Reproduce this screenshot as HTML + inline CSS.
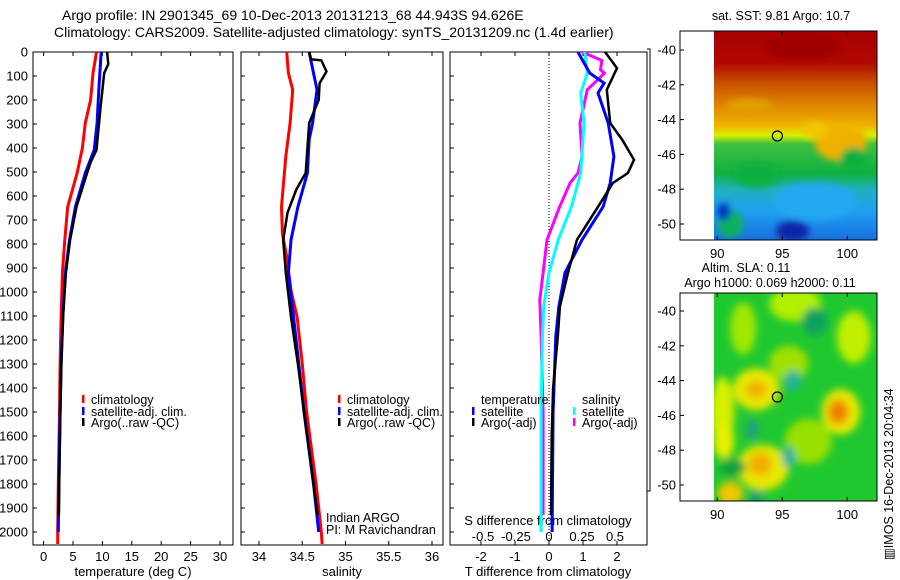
<!DOCTYPE html>
<html><head><meta charset="utf-8"><style>
html,body{margin:0;padding:0;background:#fff;}
svg{display:block;font-family:"Liberation Sans",sans-serif;}
</style></head><body>
<svg id="chart" width="900" height="580" viewBox="0 0 900 580" xmlns="http://www.w3.org/2000/svg">
<defs>
<clipPath id="c1"><rect x="33" y="52" width="200" height="493"/></clipPath>
<clipPath id="c2"><rect x="241" y="52" width="202" height="493"/></clipPath>
<clipPath id="c3"><rect x="450" y="52" width="197" height="493"/></clipPath>
<clipPath id="m1"><rect x="714" y="31" width="163" height="209"/></clipPath>
<clipPath id="m2"><rect x="714" y="293" width="163" height="208"/></clipPath>
<filter id="blur" x="-50%" y="-50%" width="200%" height="200%"><feGaussianBlur stdDeviation="3.5"/></filter>
<filter id="blur2" x="-50%" y="-50%" width="200%" height="200%"><feGaussianBlur stdDeviation="4"/></filter>
<linearGradient id="sstg" x1="0" y1="0" x2="0" y2="1">
<stop offset="0" stop-color="#a80000"/><stop offset="0.15" stop-color="#b00800"/>
<stop offset="0.25" stop-color="#c85000"/><stop offset="0.36" stop-color="#e08800"/>
<stop offset="0.45" stop-color="#f0b000"/><stop offset="0.5" stop-color="#d8f000"/>
<stop offset="0.54" stop-color="#40c040"/><stop offset="0.68" stop-color="#10b040"/>
<stop offset="0.76" stop-color="#20b0c0"/><stop offset="0.86" stop-color="#20a0f0"/>
<stop offset="1" stop-color="#1870e0"/>
</linearGradient>
</defs>
<text x="62" y="20" font-size="14">Argo profile: IN 2901345_69 10-Dec-2013 20131213_68 44.943S 94.626E</text>
<text x="54" y="37" font-size="14">Climatology: CARS2009. Satellite-adjusted climatology: synTS_20131209.nc (1.4d earlier)</text>
<g id="axes"></g>
<g id="maps"></g>
</svg>
<script>
// ---------- data ----------
const depthTicks = [0,100,200,300,400,500,600,700,800,900,1000,1100,1200,1300,1400,1500,1600,1700,1800,1900,2000];
const tempTicks = [0,5,10,15,20,25,30];
const salTicks = [34,34.5,35,35.5,36];
const salTickLabels = ["34","34.5","35","35.5","36"];
const tdiffTicks = [-2,-1,0,1,2];
const sdiffTicks = [-0.5,-0.25,0,0.25,0.5];
const sdiffTickLabels = ["-0.5","-0.25","0","0.25","0.5"];

const tClimDepth = [0,88,200,296,400,504,645,783,920,1088,1300,1500,1800,2000,2050];
const tClimVal   = [9.0,8.4,8.0,7.1,6.6,5.7,4.1,3.6,3.2,3.0,2.8,2.7,2.5,2.4,2.4];
const tSatDepth  = [0,150,296,408,504,645,783,920,1088,1300,1500,1800,2000];
const tSatVal    = [9.8,9.4,9.1,8.6,7.1,5.4,4.4,3.7,3.3,3.0,2.8,2.6,2.5];
const tArgoDepth = [0,50,88,228,408,460,504,645,783,920,1088,1300,1500,1800,1930];
const tArgoVal   = [10.8,11.0,10.3,9.7,9.0,8.0,7.4,5.6,4.5,3.8,3.35,3.0,2.85,2.65,2.6];

const sClimDepth = [0,88,157,296,435,645,757,853,993,1104,1300,1500,1800,2000,2050];
const sClimVal   = [34.32,34.34,34.39,34.36,34.31,34.26,34.27,34.32,34.37,34.44,34.50,34.55,34.66,34.72,34.73];
const sSatDepth  = [0,88,157,296,365,504,645,783,920,1104,1300,1500,1800,2000];
const sSatVal    = [34.58,34.63,34.67,34.62,34.58,34.56,34.45,34.37,34.34,34.40,34.46,34.52,34.63,34.69];
const sArgoDepth = [0,30,35,81,130,199,296,504,574,670,783,920,1104,1300,1500,1800,1930];
const sArgoVal   = [34.58,34.60,34.72,34.78,34.70,34.69,34.58,34.54,34.43,34.33,34.28,34.31,34.37,34.45,34.52,34.63,34.68];

const dTArgoDepth = [0,67,157,296,365,449,504,546,645,783,920,1060,1185,1400,1600,1930];
const dTArgoVal   = [1.65,2.0,1.7,1.8,2.15,2.5,2.32,1.88,1.44,0.82,0.56,0.32,0.26,0.12,0.08,0.06];
const dTSatDepth  = [0,88,130,171,296,435,546,645,783,920,1060,1185,1500,2000];
const dTSatVal    = [0.85,1.2,1.62,1.44,1.74,1.91,1.8,1.59,0.97,0.47,0.29,0.2,0.12,0.09];
const dSSatDepth  = [0,88,171,296,504,645,783,920,1060,1185,1500,2000];
const dSSatVal    = [0.27,0.29,0.24,0.265,0.24,0.17,0.07,0,-0.04,-0.05,-0.06,-0.06];
const dSArgoDepth = [0,35,74,88,116,157,296,435,504,546,645,783,920,1032,1185,1500,1930];
const dSArgoVal   = [0.25,0.40,0.39,0.42,0.37,0.29,0.235,0.25,0.22,0.16,0.08,-0.015,-0.045,-0.07,-0.06,-0.045,-0.045];

const lonTicks = [90,95,100];
const latTicks = [-40,-42,-44,-46,-48,-50];
const argoLon = 94.626, argoLat = -44.943;
// SST features: lon, lat, rx(deg), ry(deg), colour
const sstBlobLon = [99.5,100.5,97.5,95.8,97.5,93.0,91.0,90.5,96.5,92.5];
const sstBlobLat = [-45.3,-46.3,-48.7,-50.4,-44.6,-47.2,-50.0,-49.3,-39.8,-43.2];
const sstBlobRx  = [2.0,1.1,3.2,1.3,1.0,1.8,1.0,0.5,3.0,1.8];
const sstBlobRy  = [1.1,0.7,1.1,0.6,0.5,0.7,0.8,0.5,0.8,0.4];
const sstBlobCol = ["#f0b000","#10b040","#20a8f0","#0828a8","#f0c800","#10b040","#10b060","#0030c0","#a00000","#e0a000"];
// SLA features
const slaBlobLon = [90.4,93.0,93.0,99.5,99.3,93.5,93.3,91.0,96.0,92.0,100.5,97.0,95.5,95.8,92.7,95.5,97.5,93.0,91.2,90.5];
const slaBlobLat = [-45.8,-44.5,-44.5,-45.8,-45.8,-49.0,-48.8,-50.5,-39.6,-41.0,-41.5,-47.5,-43.0,-44.0,-46.8,-48.4,-40.6,-50.7,-49.0,-47.5];
const slaBlobRx  = [0.9,1.8,0.8,1.5,0.8,2.0,0.9,1.0,2.0,1.0,1.3,1.8,1.5,0.6,0.5,0.5,1.0,0.6,1.0,0.8];
const slaBlobRy  = [2.0,1.2,0.5,1.3,0.7,1.3,0.7,0.7,1.0,1.5,1.5,1.3,1.0,0.6,0.6,0.6,0.8,0.4,0.5,1.0];
const slaBlobCol = ["#d8f000","#e8e800","#f0b000","#e8e800","#f08000","#e8e800","#f0b000","#f0c800","#b0f000","#a0e800","#c0f000","#98e000","#a0e000","#20b0a0","#20a080","#20b0a0","#10a060","#10a070","#10a040","#e8f000"];

// ---------- helpers ----------
const NS = "http://www.w3.org/2000/svg";
const axesG = document.getElementById('axes');
const mapsG = document.getElementById('maps');
function mk(tag, attrs, parent){ const e=document.createElementNS(NS,tag); for(const k in attrs) e.setAttribute(k,attrs[k]); (parent||axesG).appendChild(e); return e; }
const yD = d => 52 + d*0.24;
const xT = t => 43.6 + t*5.88;
const xS = s => 259 + (s-34)*86.5;
const xDT = v => 549 + v*34;
const xDS = v => 549 + v*132;

function panelFrame(x0,x1,name){
  const r = mk('rect',{x:x0,y:52,width:x1-x0,height:493,fill:'none',stroke:'#000','stroke-width':1});
  
  
  depthTicks.forEach(d=>{ mk('line',{x1:x0,x2:x0+4,y1:yD(d),y2:yD(d),stroke:'#000'}); });
}
function xTicks(vals, labels, fx, x0, name){
  vals.forEach((v,i)=>{
    const x=fx(v);
    mk('line',{x1:x,x2:x,y1:52,y2:56,stroke:'#000'});
    mk('line',{x1:x,x2:x,y1:545,y2:541,stroke:'#000'});
    const t=mk('text',{x:x,y:561,'font-size':13,'text-anchor':'middle'});
    t.textContent = labels ? labels[i] : String(v);
    
    
  });
}
function series(depths, vals, fx, color, clip, name, w){
  const pts = depths.map((d,i)=> fx(vals[i]).toFixed(1)+','+yD(d).toFixed(1)).join(' ');
  const p = mk('polyline',{points:pts,fill:'none',stroke:color,'stroke-width':w||3,'stroke-linejoin':'miter','clip-path':'url(#'+clip+')'});
  
  
}
function txt(x,y,s,size,name,anchor){
  const t=mk('text',{x:x,y:y,'font-size':size||12.5,'text-anchor':anchor||'start'});
  t.textContent=s;
  
  
  return t;
}
function legBar(x,y,color,name){
  const r=mk('rect',{x:x,y:y,width:2.5,height:8,fill:color});
  
  
}
const LF = 12.5;

// ---------- panel 1 temperature ----------
panelFrame(33,233,'temperature-panel');
depthTicks.forEach(d=>{ txt(28,yD(d)+4.5,String(d),13,'depth-tick-label','end'); });
xTicks(tempTicks,null,xT,33,'temperature');
txt(133,576,'temperature (deg C)',13,'temperature-axis-title','middle');
series(tClimDepth,tClimVal,xT,'#ff0000','c1','temp-climatology-line');
series(tSatDepth,tSatVal,xT,'#0000ff','c1','temp-satellite-line');
series(tArgoDepth,tArgoVal,xT,'#000000','c1','temp-argo-line',2.5);
legBar(82,395,'#ff0000','legend-climatology-swatch'); txt(91,404,'climatology',LF,'legend-climatology');
legBar(82,407,'#0000ff','legend-satellite-swatch'); txt(91,416,'satellite-adj. clim.',LF,'legend-satellite');
legBar(82,418,'#000000','legend-argo-swatch'); txt(91,427,'Argo(..raw -QC)',LF,'legend-argo');

// ---------- panel 2 salinity ----------
panelFrame(241,443,'salinity-panel');
xTicks(salTicks,salTickLabels,xS,241,'salinity');
txt(342,576,'salinity',13,'salinity-axis-title','middle');
series(sClimDepth,sClimVal,xS,'#ff0000','c2','sal-climatology-line');
series(sSatDepth,sSatVal,xS,'#0000ff','c2','sal-satellite-line');
series(sArgoDepth,sArgoVal,xS,'#000000','c2','sal-argo-line',2.5);
legBar(338,395,'#ff0000','legend2-climatology-swatch'); txt(347,404,'climatology',LF,'legend2-climatology');
legBar(338,407,'#0000ff','legend2-satellite-swatch'); txt(347,416,'satellite-adj. clim.',LF,'legend2-satellite');
legBar(338,418,'#000000','legend2-argo-swatch'); txt(347,427,'Argo(..raw -QC)',LF,'legend2-argo');
txt(326,522,'Indian ARGO',LF,'credit-indian-argo');
txt(326,534,'PI: M Ravichandran',LF,'credit-pi');

// ---------- panel 3 differences ----------
panelFrame(450,647,'difference-panel');
xTicks(tdiffTicks,null,xDT,450,'tdiff');
txt(548,576,'T difference from climatology',13,'tdiff-axis-title','middle');
mk('line',{x1:549,x2:549,y1:52,y2:545,stroke:'#000','stroke-dasharray':'1,2'});
sdiffTicks.forEach((v,i)=>{ txt(xDS(v),541,sdiffTickLabels[i],13,'sdiff-tick-label','middle'); });
txt(548,525,'S difference from climatology',13,'sdiff-axis-title','middle');
series(dSArgoDepth,dSArgoVal,xDS,'#ff00ff','c3','sdiff-argo-line');
series(dSSatDepth,dSSatVal,xDS,'#00ffff','c3','sdiff-satellite-line');
series(dTSatDepth,dTSatVal,xDT,'#0000ff','c3','tdiff-satellite-line');
series(dTArgoDepth,dTArgoVal,xDT,'#000000','c3','tdiff-argo-line',2.5);
txt(481,404,'temperature',LF,'legend3-temperature-heading');
txt(582,404,'salinity',LF,'legend3-salinity-heading');
legBar(472,407,'#0000ff','legend3-tsat-swatch'); txt(481,416,'satellite',LF,'legend3-tsat');
legBar(472,418,'#000000','legend3-targo-swatch'); txt(481,427,'Argo(-adj)',LF,'legend3-targo');
legBar(573,407,'#00ffff','legend3-ssat-swatch'); txt(582,416,'satellite',LF,'legend3-ssat');
legBar(573,418,'#ff00ff','legend3-sargo-swatch'); txt(582,427,'Argo(-adj)',LF,'legend3-sargo');

// bracket
mk('polyline',{points:'647,49 650,49 650,491 647,491',fill:'none',stroke:'#000'});

// ---------- maps ----------
const mxL = lon => 714 + (lon-89.75)*13;
const yM1 = lat => 50 + (-40-lat)*17.4;
const yM2 = lat => 311 + (-40-lat)*17.4;

function mapAxes(yM, top, bottom, name){
  const r=mk('rect',{x:680,y:top,width:197,height:bottom-top,fill:'none',stroke:'#000'},mapsG);
  
  
  latTicks.forEach(l=>{
    mk('line',{x1:680,x2:684,y1:yM(l),y2:yM(l),stroke:'#000'},mapsG);
    const t=mk('text',{x:676,y:yM(l)+4.5,'font-size':13,'text-anchor':'end'},mapsG);
    t.textContent=String(l);
    
    
  });
  lonTicks.forEach(l=>{
    mk('line',{x1:mxL(l),x2:mxL(l),y1:top,y2:top+4,stroke:'#000'},mapsG);
    mk('line',{x1:mxL(l),x2:mxL(l),y1:bottom,y2:bottom-4,stroke:'#000'},mapsG);
    const t=mk('text',{x:mxL(l),y:bottom+18,'font-size':13,'text-anchor':'middle'},mapsG);
    t.textContent=String(l);
    
    
  });
  const c=mk('ellipse',{cx:mxL(argoLon),cy:yM(argoLat),rx:5,ry:5,fill:'none',stroke:'#000','stroke-width':1.2},mapsG);
  
  
}
// SST map
const g1 = mk('g',{'clip-path':'url(#m1)'},mapsG);


mk('rect',{x:714,y:31,width:163,height:209,fill:'url(#sstg)'},g1);
const g1b = mk('g',{filter:'url(#blur)'},g1);
sstBlobLon.forEach((lon,i)=>{
  mk('ellipse',{cx:mxL(lon),cy:yM1(sstBlobLat[i]),rx:sstBlobRx[i]*13,ry:sstBlobRy[i]*17.4,fill:sstBlobCol[i]},g1b);
});
mapAxes(yM1,31,240,'sst-map');
mapsG.appendChild(txt(781,20,'sat. SST: 9.81 Argo: 10.7',12.5,'sst-map-title','middle'));
// SLA map
const g2 = mk('g',{'clip-path':'url(#m2)'},mapsG);


mk('rect',{x:714,y:293,width:163,height:208,fill:'#20c830'},g2);
const g2b = mk('g',{filter:'url(#blur2)'},g2);
slaBlobLon.forEach((lon,i)=>{
  mk('ellipse',{cx:mxL(lon),cy:yM2(slaBlobLat[i]),rx:slaBlobRx[i]*13,ry:slaBlobRy[i]*17.4,fill:slaBlobCol[i]},g2b);
});
mapAxes(yM2,293,501,'sla-map');
mapsG.appendChild(txt(746,272,'Altim. SLA: 0.11',12.5,'sla-map-title-1','middle'));
mapsG.appendChild(txt(770,287,'Argo h1000: 0.069 h2000: 0.11',12.5,'sla-map-title-2','middle'));
const im = mk('text',{x:0,y:0,'font-size':12.5,transform:'translate(893,560) rotate(-90)'},mapsG);
im.textContent='\u25A5IMOS 16-Dec-2013 20:04:34';


</script>
</body></html>
